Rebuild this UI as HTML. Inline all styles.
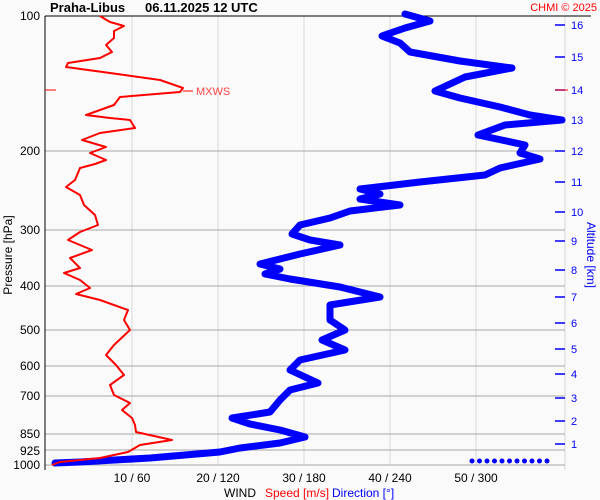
<!DOCTYPE html>
<html><head><style>
body{margin:0;background:#fafafa;}
svg{display:block;font-family:"Liberation Sans",sans-serif;}
</style></head><body>
<svg width="600" height="500" viewBox="0 0 600 500" xmlns="http://www.w3.org/2000/svg">
<rect width="600" height="500" fill="#fafafa"/>
<g stroke="#d8d8d8" stroke-width="1">
<line x1="132" y1="16" x2="132" y2="465"/><line x1="218" y1="16" x2="218" y2="465"/>
<line x1="304" y1="16" x2="304" y2="465"/><line x1="390" y1="16" x2="390" y2="465"/>
<line x1="476" y1="16" x2="476" y2="465"/><line x1="565" y1="16" x2="565" y2="470"/>
</g>
<g stroke="#a8a8a8" stroke-width="1">
<line x1="45" y1="151" x2="565" y2="151"/><line x1="45" y1="230" x2="565" y2="230"/>
<line x1="45" y1="286" x2="565" y2="286"/><line x1="45" y1="330" x2="565" y2="330"/>
<line x1="45" y1="366" x2="565" y2="366"/><line x1="45" y1="396" x2="565" y2="396"/>
<line x1="45" y1="434" x2="565" y2="434"/><line x1="45" y1="450" x2="565" y2="450"/>
<line x1="45" y1="465" x2="565" y2="465"/>
</g>
<line x1="45" y1="16" x2="591" y2="16" stroke="#000"/>
<line x1="45" y1="16" x2="45" y2="470" stroke="#000"/>
<g font-size="12" fill="#000" text-anchor="end">
<text x="40" y="20">100</text><text x="40" y="155">200</text><text x="40" y="234">300</text>
<text x="40" y="290">400</text><text x="40" y="334">500</text><text x="40" y="370">600</text>
<text x="40" y="400">700</text><text x="40" y="438">850</text><text x="40" y="455">925</text>
<text x="40" y="469">1000</text>
</g>
<text transform="translate(12,255) rotate(-90)" font-size="12" text-anchor="middle">Pressure [hPa]</text>
<text x="50" y="12" font-size="13" font-weight="bold">Praha-Libus</text>
<text x="145" y="12" font-size="13" font-weight="bold">06.11.2025 12 UTC</text>
<text x="597" y="11" font-size="11" fill="#f00" text-anchor="end">CHMI © 2025</text>
<g font-size="12" text-anchor="middle">
<text x="132" y="482">10 / 60</text><text x="218" y="482">20 / 120</text><text x="304" y="482">30 / 180</text>
<text x="390" y="482">40 / 240</text><text x="476" y="482">50 / 300</text>
</g>
<text x="224" y="497" font-size="12">WIND</text>
<text x="265" y="497" font-size="12" fill="#f00">Speed [m/s]</text>
<text x="332" y="497" font-size="12" fill="#00f">Direction [°]</text>
<g stroke="#00f" stroke-width="1.5">
<line x1="555" y1="25" x2="565" y2="25"/><line x1="555" y1="57" x2="565" y2="57"/>
<line x1="555" y1="90" x2="565" y2="90"/><line x1="555" y1="120" x2="565" y2="120"/>
<line x1="555" y1="151" x2="565" y2="151"/><line x1="555" y1="182" x2="565" y2="182"/>
<line x1="555" y1="212" x2="565" y2="212"/><line x1="555" y1="241" x2="565" y2="241"/>
<line x1="555" y1="270" x2="565" y2="270"/><line x1="555" y1="297" x2="565" y2="297"/>
<line x1="555" y1="323" x2="565" y2="323"/><line x1="555" y1="349" x2="565" y2="349"/>
<line x1="555" y1="374" x2="565" y2="374"/><line x1="555" y1="398" x2="565" y2="398"/>
<line x1="555" y1="421" x2="565" y2="421"/><line x1="555" y1="444" x2="565" y2="444"/>
</g>
<g font-size="11" fill="#00f">
<text x="571" y="29">16</text><text x="571" y="61">15</text><text x="571" y="94">14</text>
<text x="571" y="124">13</text><text x="571" y="155">12</text><text x="571" y="186">11</text>
<text x="571" y="216">10</text><text x="571" y="245">9</text><text x="571" y="274">8</text>
<text x="571" y="301">7</text><text x="571" y="327">6</text><text x="571" y="353">5</text>
<text x="571" y="378">4</text><text x="571" y="402">3</text><text x="571" y="425">2</text>
<text x="571" y="448">1</text>
</g>
<text transform="translate(587,255) rotate(90)" font-size="12" fill="#00f" text-anchor="middle">Altitude [km]</text>
<line x1="45" y1="90" x2="56" y2="90" stroke="#f00"/>
<line x1="555" y1="90" x2="568" y2="90" stroke="#f00"/>
<line x1="183" y1="91" x2="193" y2="91" stroke="#f00"/>
<text x="196" y="95" font-size="11" fill="#f44">MXWS</text>
<polyline fill="none" stroke="#00f" stroke-width="7" stroke-linejoin="round" stroke-linecap="round" points="405,14 430,21 405,28 382,36 400,43 410,52 460,61 512,68 465,77 435,91 460,98 500,107 530,115 562,120 505,125 478,135 525,145 520,153 540,159 500,168 485,175 420,182 360,189 380,194 360,199 400,205 350,211 330,218 300,225 292,234 310,240 340,245 300,254 260,264 280,269 265,274 290,279 340,287 380,297 330,305 330,320 345,330 322,340 345,350 300,360 290,370 318,383 290,390 280,400 270,412 232,418 250,424 280,430 305,437 280,443 240,448 220,452 150,458 80,462 55,463"/>
<g fill="#00f">
<circle cx="472" cy="461" r="2.5"/><circle cx="479.5" cy="461" r="2.5"/><circle cx="487" cy="461" r="2.5"/>
<circle cx="494.5" cy="461" r="2.5"/><circle cx="502" cy="461" r="2.5"/><circle cx="509.5" cy="461" r="2.5"/>
<circle cx="517" cy="461" r="2.5"/><circle cx="524.5" cy="461" r="2.5"/><circle cx="532" cy="461" r="2.5"/>
<circle cx="539.5" cy="461" r="2.5"/><circle cx="547" cy="461" r="2.5"/>
</g>
<polyline fill="none" stroke="#f00" stroke-width="2" stroke-linejoin="round" points="100,16 110,22 124,26 114,31 114,38 106,45 112,52 100,58 68,63 66,67 110,73 160,80 183,88 180,92 120,97 114,105 100,110 86,115 110,118 130,120 135,128 100,133 82,140 106,147 90,153 106,160 95,164 80,168 75,180 66,187 80,195 84,205 95,215 98,225 80,232 68,240 92,250 70,258 80,268 64,273 80,280 90,288 76,294 100,300 128,310 124,320 130,330 114,345 106,355 116,365 124,375 110,385 114,395 130,403 122,410 132,418 135,425 136,432 172,440 140,445 128,452 100,458 60,462 52,465"/>
</svg>
</body></html>
